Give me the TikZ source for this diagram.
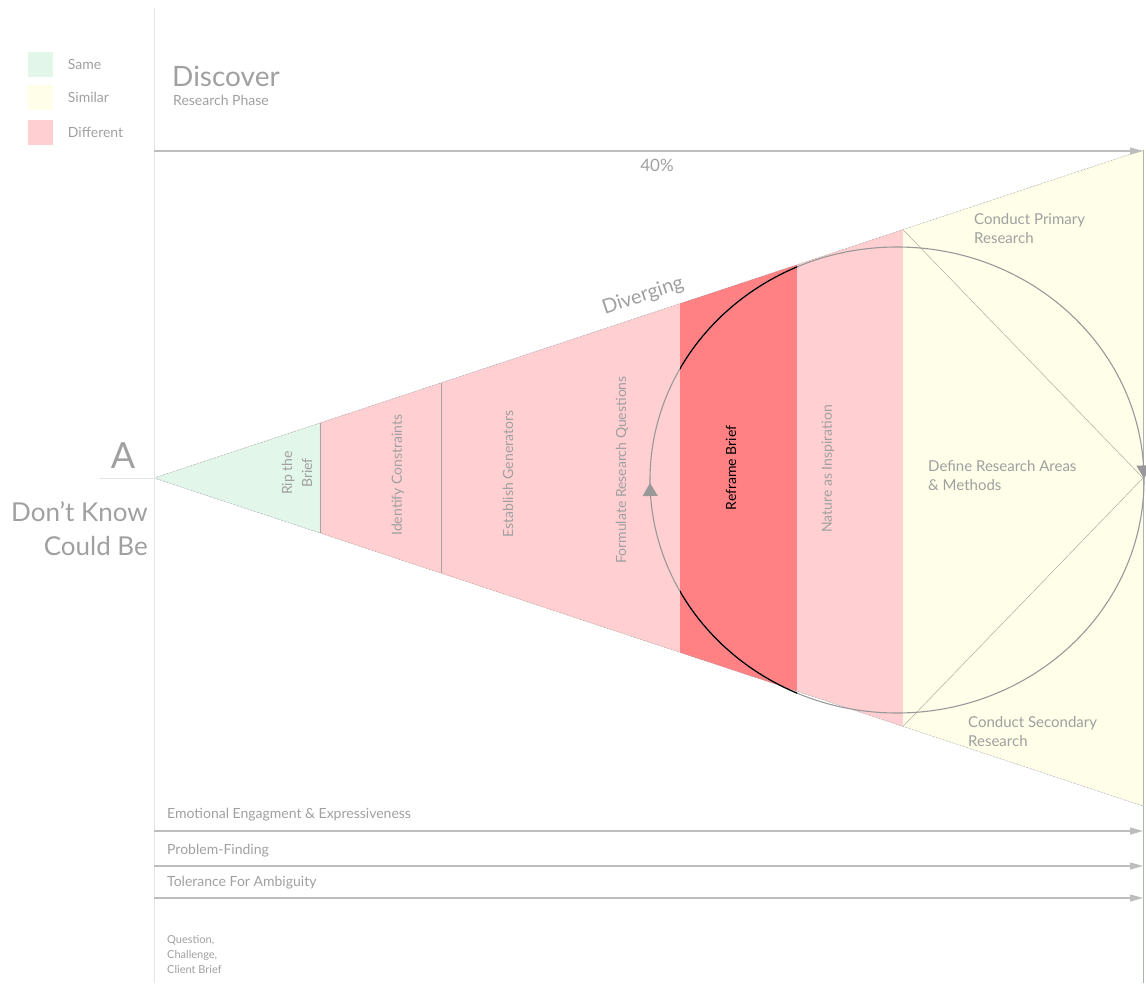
\documentclass[tikz,border=0pt]{standalone}
\usepackage{fontspec}
\setmainfont{Lato}
\usetikzlibrary{arrows.meta,calc,positioning,decorations.markings}

\definecolor{samegreen}{HTML}{E2F6EA}
\definecolor{similaryellow}{HTML}{FFFEE9}
\definecolor{diffpink}{HTML}{FFCFD1}
\definecolor{reframered}{HTML}{FF8184}
\definecolor{txtgray}{HTML}{A0A0A0}
\definecolor{linegray}{HTML}{BDBDBD}

\begin{document}
\begin{tikzpicture}[x=1pt, y=-1pt,
    txt/.style={text=txtgray, inner sep=0pt, font=\fontsize{14}{17}\selectfont},
    stage/.style={txt, rotate=90, align=center, font=\fontsize{14}{20}\selectfont},
    note/.style={txt, align=left, anchor=north west, font=\fontsize{15}{19}\selectfont},
    legendbox/.style={minimum size=25pt, inner sep=0pt},
    trackline/.style={draw=linegray, line width=1.2pt, -{Triangle[length=13pt,width=7pt]}},
    thinline/.style={draw=black!35, line width=0.5pt},
    edgeline/.style={draw=gray, line width=0.5pt, densely dotted},
    diagline/.style={draw=black!20!similaryellow!60!gray, line width=0.5pt},
    framefaint/.style={draw=black!10, line width=1pt},
    cycleline/.style={draw=black!40, line width=1.1pt,
      decoration={markings,
        mark=at position 0.498 with {\arrow{Triangle[length=13pt,width=15pt]}},
        mark=at position 0.999 with {\arrow{Triangle[length=13pt,width=15pt]}}}}
  ]
  \useasboundingbox (0,0) rectangle (1146,983);

  % funnel
  \coordinate (apex) at (154,478);
  \coordinate (tf)   at (1143,150);
  \coordinate (bf)   at (1143,806);
  \coordinate (mid)  at (1143,478);
  \foreach \n/\x in {a/320,b/441,c/680,d/797,e/903}{
    \coordinate (t\n) at ($(apex)!{(\x-154)/989}!(tf)$);
    \coordinate (b\n) at ($(apex)!{(\x-154)/989}!(bf)$);
  }
  \fill[samegreen]     (apex) -- (ta) -- (ba) -- cycle;
  \fill[diffpink]      (ta) -- (tc) -- (bc) -- (ba) -- cycle;
  \fill[reframered]    (tc) -- (td) -- (bd) -- (bc) -- cycle;
  \fill[diffpink]      (td) -- (te) -- (be) -- (bd) -- cycle;
  \fill[similaryellow] (te) -- (tf) -- (bf) -- (be) -- cycle;

  \draw[thinline] (ta) -- (ba) (tb) -- (bb);
  \draw[diagline] (te) -- (mid) -- (be);
  \draw[edgeline] (tf) -- (apex) -- (bf);

  % frame
  \coordinate (frame top)    at (154,8);
  \coordinate (frame bottom) at (154,983);
  \coordinate (right bottom) at (1143,983);
  \draw[framefaint] (frame top) -- (frame bottom);
  \draw[draw=black!25!green!10!gray!60, line width=0.6pt] (tf) -- (right bottom);
  \coordinate (A rule) at (100,478);
  \draw[framefaint] (A rule) -- (apex);

  % tracks
  \foreach \n/\y in {phase/151,emotion/831,problem/866,tolerance/898}{
    \coordinate (\n start) at (154,\y);
    \coordinate (\n end)   at (1143,\y);
    \draw[trackline] (\n start) -- (\n end);
  }

  % cycle
  \coordinate (cyc) at (897,480);
  \draw[cycleline, postaction={decorate}] (cyc) ellipse [x radius=247, y radius=233];
  \begin{scope}
    \clip (680,0) rectangle (797,983);
    \draw[black, line width=1.2pt] (cyc) ellipse [x radius=247, y radius=233];
  \end{scope}

  % legend
  \node[legendbox, fill=samegreen]                          (same box)    at (40,64) {};
  \node[legendbox, fill=similaryellow, below=8pt of same box] (similar box) {};
  \node[legendbox, fill=diffpink, below=10pt of similar box] (diff box)    {};
  \node[txt, right=15pt of same box]    (same)    {Same};
  \node[txt, right=15pt of similar box] (similar) {Similar};
  \node[txt, right=15pt of diff box]    (diff)    {Different};

  % headings
  \node[txt, font=\fontsize{28}{32}\selectfont, anchor=base west] (discover) at (172,86) {Discover};
  \node[txt, anchor=base west] (research phase) at (173,105) {Research Phase};
  \node[txt, font=\fontsize{17}{20}\selectfont] (share) at (657,165) {40\%};
  \node[txt, font=\fontsize{20}{24}\selectfont, rotate=18.35] (diverging) at (643,296) {Diverging};
  \node[txt, font=\fontsize{36}{40}\selectfont, anchor=base] (A) at (123,468) {A};
  \node[txt, font=\fontsize{26}{34}\selectfont, align=right, anchor=north east] (state) at (148,501) {Don’t Know\\Could Be};

  % stages
  \node[stage]             (rip)       at (297,473) {Rip the\\Brief};
  \node[stage]             (identify)  at (398,475) {Identify Constraints};
  \node[stage]             (establish) at (508,474) {Establish Generators};
  \node[stage]             (formulate) at (622,470) {Formulate Research Questions};
  \node[stage, text=black] (reframe)   at (731,468) {Reframe Brief};
  \node[stage]             (nature)    at (828,469) {Nature as Inspiration};

  \node[note] (primary)   at (974,213) {Conduct Primary\\Research};
  \node[note] (define)    at (928,460) {Define Research Areas\\\& Methods};
  \node[note] (secondary) at (968,716) {Conduct Secondary\\Research};

  % traits
  \node[txt, anchor=base west] (emotion)   at (167,818) {Emotional Engagment \& Expressiveness};
  \node[txt, anchor=base west] (problem)   at (167,854) {Problem-Finding};
  \node[txt, anchor=base west] (tolerance) at (167,886) {Tolerance For Ambiguity};
  \node[txt, font=\fontsize{11}{15}\selectfont, align=left, anchor=north west] (brief) at (167,935) {Question,\\Challenge,\\Client Brief};
\end{tikzpicture}
\end{document}
